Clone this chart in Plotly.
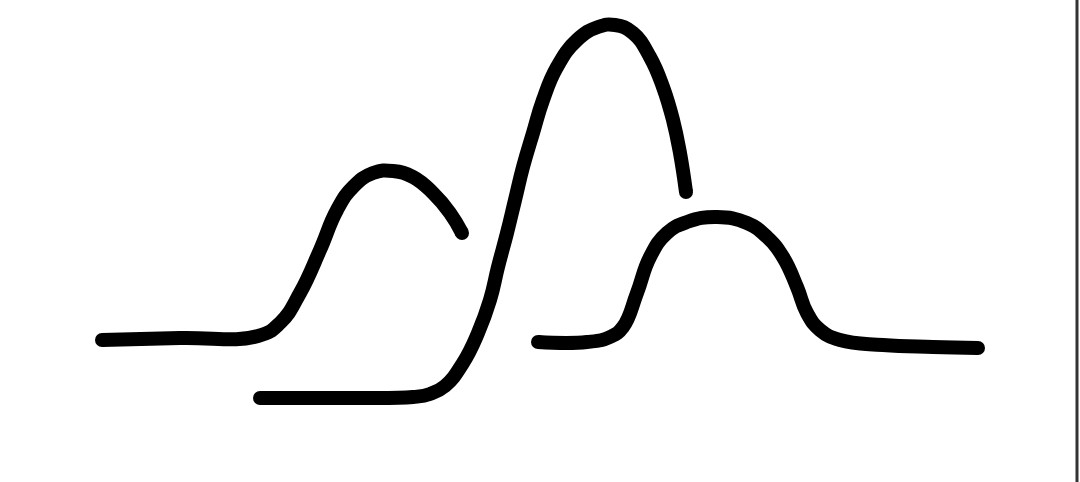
import plotly.graph_objects as go

# Curve 1: small left bump (pixel-like units, y downwards)
c1_x = [102, 180, 258, 280, 300, 320, 337, 353, 373, 393, 413, 433, 450, 462]
c1_y = [340, 338, 336, 323, 293, 250, 210, 187, 173, 171, 177, 193, 213, 233]

# Curve 2: tall middle peak
c2_x = [260, 340, 413, 430, 445, 463, 478, 490, 498, 507, 515, 523, 533, 543, 557, 577, 598, 615, 633, 650, 663, 673, 680, 686]
c2_y = [398, 398, 397, 394, 386, 363, 333, 300, 267, 233, 200, 167, 133, 100, 67, 40, 27, 25, 33, 57, 87, 120, 153, 192]

# Curve 3: right bump
c3_x = [538, 587, 610, 623, 637, 650, 667, 687, 717, 747, 767, 783, 797, 807, 820, 840, 883, 933, 978]
c3_y = [342, 342, 337, 327, 293, 257, 233, 222, 217, 223, 237, 257, 287, 313, 330, 340, 345, 347, 348]

curves = [(c1_x, c1_y), (c2_x, c2_y), (c3_x, c3_y)]

fig = go.Figure()
for xs, ys in curves:
    fig.add_trace(go.Scatter(
        x=xs, y=ys, mode="lines",
        line=dict(color="black", width=14, shape="spline", smoothing=1.3),
        hoverinfo="skip", showlegend=False))
    fig.add_trace(go.Scatter(
        x=[xs[0], xs[-1]], y=[ys[0], ys[-1]], mode="markers",
        marker=dict(color="black", size=14, line=dict(width=0)),
        hoverinfo="skip", showlegend=False))

fig.add_shape(type="line", xref="paper", yref="paper",
              x0=1077 / 1080, x1=1077 / 1080, y0=0, y1=1,
              line=dict(color="#333333", width=3))

fig.update_layout(
    width=1080, height=482,
    margin=dict(l=0, r=0, t=0, b=0),
    paper_bgcolor="white", plot_bgcolor="white",
    xaxis=dict(range=[0, 1080], visible=False, fixedrange=True),
    yaxis=dict(range=[482, 0], visible=False, fixedrange=True),
)

fig.write_html("out.html", config={"displayModeBar": False},
               post_script="document.body.style.margin='0';document.body.style.overflow='hidden';")
